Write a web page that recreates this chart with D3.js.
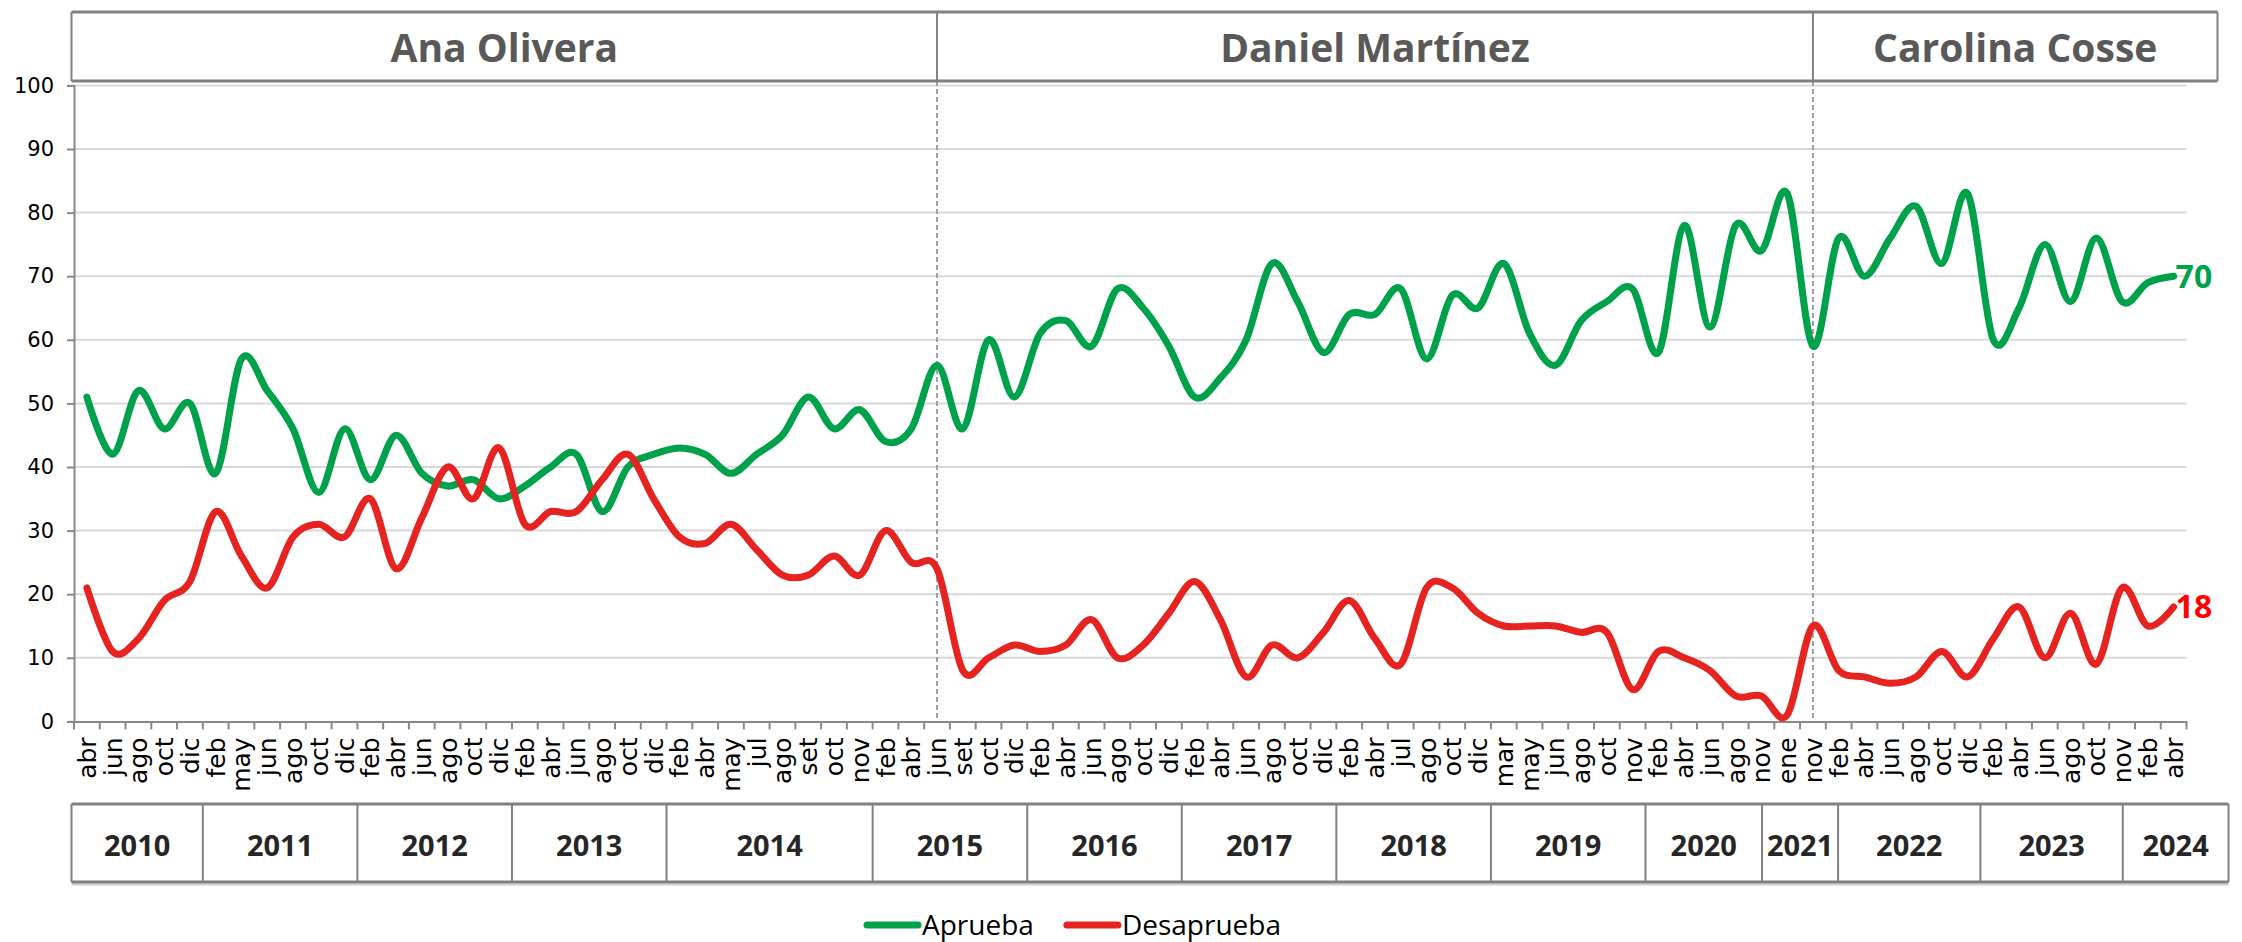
<!DOCTYPE html>
<html lang="es">

<head>
    <meta charset="utf-8">
    <title>Aprobación - Intendencia de Montevideo</title>
    <style>
        body {
            margin: 0;
            background: #fff;
        }
        svg {
            display: block;
        }
        .axis path,
        .axis line {
            stroke: #898989;
            stroke-width: 2;
        }
        .axis text {
            font-family: "DejaVu Sans", sans-serif;
            fill: #000;
        }
        .grid line {
            stroke: #d9d9d9;
            stroke-width: 2;
        }
        .frame line {
            stroke: #808080;
        }
        .mayor {
            font-family: "Open Sans", sans-serif;
            font-weight: 700;
            font-size: 39px;
            fill: #595959;
        }
        .year {
            font-family: "Open Sans", sans-serif;
            font-weight: 700;
            font-size: 29px;
            fill: #262626;
        }
        .legend text {
            font-family: "Open Sans", sans-serif;
            font-size: 28px;
            fill: #000;
        }
        .end-label {
            font-family: "Open Sans", sans-serif;
            font-weight: 700;
            font-size: 32px;
        }
    </style>
</head>

<body>
    <script src="https://cdn.jsdelivr.net/npm/d3@7"></script>
    <script>
        // years and how many polls fall in each one
        const yearLabels = ["2010", "2011", "2012", "2013", "2014", "2015", "2016", "2017",
            "2018", "2019", "2020", "2021", "2022", "2023", "2024"];
        const monthsPerYear = [5, 6, 6, 6, 8, 6, 6, 6, 6, 6, 5, 2, 6, 6, 2];

        const months = [
            "abr", "jun", "ago", "oct", "dic",
            "feb", "may", "jun", "ago", "oct", "dic",
            "feb", "abr", "jun", "ago", "oct", "dic",
            "feb", "abr", "jun", "ago", "oct", "dic",
            "feb", "abr", "may", "jul", "ago", "set", "oct", "nov",
            "feb", "abr", "jun", "set", "oct", "dic",
            "feb", "abr", "jun", "ago", "oct", "dic",
            "feb", "abr", "jun", "ago", "oct", "dic",
            "feb", "abr", "jul", "ago", "oct", "dic",
            "mar", "may", "jun", "ago", "oct", "nov",
            "feb", "abr", "jun", "ago", "nov",
            "ene", "nov",
            "feb", "abr", "jun", "ago", "oct", "dic",
            "feb", "abr", "jun", "ago", "oct", "nov",
            "feb", "abr"
        ];

        const aprueba = [
            51, 42, 52, 46, 50,
            39, 57, 52, 46, 36, 46,
            38, 45, 39, 37, 38, 35,
            37, 40, 42, 33, 40, 42,
            43, 42, 39, 42, 45, 51, 46, 49,
            44, 46, 56, 46, 60, 51,
            61, 63, 59, 68, 65, 59,
            51, 54, 60, 72, 66, 58,
            64, 64, 68, 57, 67, 65,
            72, 61, 56, 63, 66, 68,
            58, 78, 62, 78, 74,
            83, 59,
            76, 70, 76, 81, 72, 83,
            60, 65, 75, 66, 76, 66,
            69, 70
        ];

        const desaprueba = [
            21, 11, 13, 19, 22,
            33, 26, 21, 29, 31, 29,
            35, 24, 32, 40, 35, 43,
            31, 33, 33, 38, 42, 35,
            29, 28, 31, 27, 23, 23, 26, 23,
            30, 25, 24, 8, 10, 12,
            11, 12, 16, 10, 12, 17,
            22, 16, 7, 12, 10, 14,
            19, 13, 9, 21, 21, 17,
            15, 15, 15, 14, 14, 5,
            11, 10, 8, 4, 4,
            1, 15,
            8, 7, 6, 7, 11, 7,
            13, 18, 10, 17, 9, 21,
            15, 18
        ];

        const mayors = ["Ana Olivera", "Daniel Martínez", "Carolina Cosse"];
        const termStarts = ["jun 2015", "nov 2021"];
        const seriesNames = ["Aprueba", "Desaprueba"];
        const seriesColors = ["#00a14b", "#e52421"];
        const labelColors = ["#00a14b", "#ff0000"];
        const yTicks = d3.range(0, 101, 10);

        const width = 2242,
            height = 942;

        // one entry per poll: month + year
        const yearOfPoll = monthsPerYear.flatMap((n, i) => d3.range(n).map(() => yearLabels[i]));
        const keys = months.map((m, i) => `${m} ${yearOfPoll[i]}`);

        const x = d3.scaleBand()
            .domain(d3.range(months.length))
            .range([74, 2186.5])
            .padding(0);
        const y = d3.scaleLinear()
            .domain([0, 100])
            .range([721.4, 85.4]);
        const xc = i => x(i) + x.bandwidth() / 2;

        const plotLeft = x.range()[0],
            plotRight = x.range()[1];
        const headerTop = 12,
            headerBottom = 81,
            headerRight = plotRight + 31;
        const tableTop = 804,
            tableBottom = 882,
            tableLeft = plotLeft - 2.5,
            tableRight = plotRight + 42;

        const svg = d3.select("body")
            .append("svg")
            .attr("width", width)
            .attr("height", height);

        // gridlines
        svg.append("g")
            .attr("class", "grid")
            .selectAll("line")
            .data(yTicks.filter(d => d > 0))
            .join("line")
            .attr("x1", plotLeft)
            .attr("x2", plotRight)
            .attr("y1", d => y(d))
            .attr("y2", d => y(d));

        // y axis
        svg.append("g")
            .attr("class", "axis y")
            .attr("transform", `translate(${plotLeft},0)`)
            .call(d3.axisLeft(y).tickValues(yTicks).tickSize(7).tickPadding(13).tickSizeOuter(7))
            .selectAll("text")
            .style("font-size", "21px");

        // x axis: labels centred on polls, ticks on band edges
        const xAxis = svg.append("g")
            .attr("class", "axis x")
            .attr("transform", `translate(0,${y(0)})`)
            .call(d3.axisBottom(x).tickSize(0).tickSizeOuter(0).tickFormat(i => months[i]));
        xAxis.selectAll(".tick text")
            .style("font-size", "25px")
            .attr("transform", "rotate(-90)")
            .attr("text-anchor", "end")
            .attr("x", -16)
            .attr("y", 0)
            .attr("dy", "0.36em");
        xAxis.selectAll(".edge")
            .data(d3.range(months.length + 1))
            .join("line")
            .attr("class", "edge")
            .attr("x1", i => plotLeft + i * x.step())
            .attr("x2", i => plotLeft + i * x.step())
            .attr("y1", 0)
            .attr("y2", 8);

        // term changes: dashed lines
        const termX = termStarts.map(k => xc(keys.indexOf(k)));
        svg.append("g")
            .selectAll("line")
            .data(termX)
            .join("line")
            .attr("x1", d => d)
            .attr("x2", d => d)
            .attr("y1", headerBottom)
            .attr("y2", y(0))
            .attr("stroke", "#8c8c8c")
            .attr("stroke-width", 1.6)
            .attr("stroke-dasharray", "5,3");

        // lines
        const line = d3.line()
            .x((d, i) => xc(i))
            .y(d => y(d))
            .curve(d3.curveCardinal.tension(0));

        [aprueba, desaprueba].forEach((values, s) => {
            svg.append("path")
                .datum(values)
                .attr("fill", "none")
                .attr("stroke", seriesColors[s])
                .attr("stroke-width", 7)
                .attr("stroke-linejoin", "round")
                .attr("stroke-linecap", "round")
                .attr("d", line);

            const last = values.length - 1;
            svg.append("text")
                .attr("class", "end-label")
                .attr("x", xc(last) + 2)
                .attr("y", y(values[last]))
                .attr("dy", "0.36em")
                .attr("fill", labelColors[s])
                .text(values[last]);
        });

        // header with mayors
        const header = svg.append("g").attr("class", "frame");
        const secEdges = [tableLeft, ...termX, headerRight];
        header.selectAll(".hline")
            .data([headerTop, headerBottom])
            .join("line")
            .attr("class", "hline")
            .attr("x1", tableLeft)
            .attr("x2", headerRight)
            .attr("y1", d => d)
            .attr("y2", d => d)
            .attr("stroke-width", 3);
        header.selectAll(".vline")
            .data(secEdges)
            .join("line")
            .attr("class", "vline")
            .attr("x1", d => d)
            .attr("x2", d => d)
            .attr("y1", headerTop)
            .attr("y2", headerBottom)
            .attr("stroke-width", 2);
        header.selectAll("text")
            .data(mayors)
            .join("text")
            .attr("class", "mayor")
            .attr("x", (d, i) => (secEdges[i] + secEdges[i + 1]) / 2)
            .attr("y", 62)
            .attr("text-anchor", "middle")
            .text(d => d);

        // year table under the axis
        const cum = [0, ...d3.cumsum(monthsPerYear)];
        const yearX = cum.map(i => plotLeft + i * x.step());
        const minW = 76;
        yearLabels.forEach((yl, i) => {
            const w = yearX[i + 1] - yearX[i];
            if (w < minW) {
                yearX[i] -= (minW - w) / 2;
                yearX[i + 1] += (minW - w) / 2;
            }
        });
        yearX[0] = tableLeft;
        yearX[yearX.length - 1] = tableRight;

        const table = svg.append("g").attr("class", "frame");
        table.append("line")
            .attr("x1", tableLeft).attr("x2", tableRight)
            .attr("y1", tableBottom + 2.5).attr("y2", tableBottom + 2.5)
            .attr("stroke-width", 2)
            .style("stroke", "#d0d0d0");
        table.selectAll(".hline")
            .data([tableTop, tableBottom])
            .join("line")
            .attr("class", "hline")
            .attr("x1", tableLeft)
            .attr("x2", tableRight)
            .attr("y1", d => d)
            .attr("y2", d => d)
            .attr("stroke-width", 3);
        table.selectAll(".vline")
            .data(yearX)
            .join("line")
            .attr("class", "vline")
            .attr("x1", d => d)
            .attr("x2", d => d)
            .attr("y1", tableTop)
            .attr("y2", tableBottom)
            .attr("stroke-width", 2);
        table.selectAll("text")
            .data(yearLabels)
            .join("text")
            .attr("class", "year")
            .attr("x", (d, i) => (yearX[i] + yearX[i + 1]) / 2)
            .attr("y", 856)
            .attr("text-anchor", "middle")
            .text(d => d);

        // legend
        const legend = svg.append("g").attr("class", "legend");
        let lx = 864;
        seriesNames.forEach((name, s) => {
            legend.append("line")
                .attr("x1", lx + 3)
                .attr("x2", lx + 54)
                .attr("y1", 925)
                .attr("y2", 925)
                .attr("stroke", seriesColors[s])
                .attr("stroke-width", 7)
                .attr("stroke-linecap", "round");
            const t = legend.append("text")
                .attr("x", lx + 58)
                .attr("y", 935)
                .text(name);
            lx += 58 + t.node().getComputedTextLength() + 30;
        });
    </script>
</body>

</html>
